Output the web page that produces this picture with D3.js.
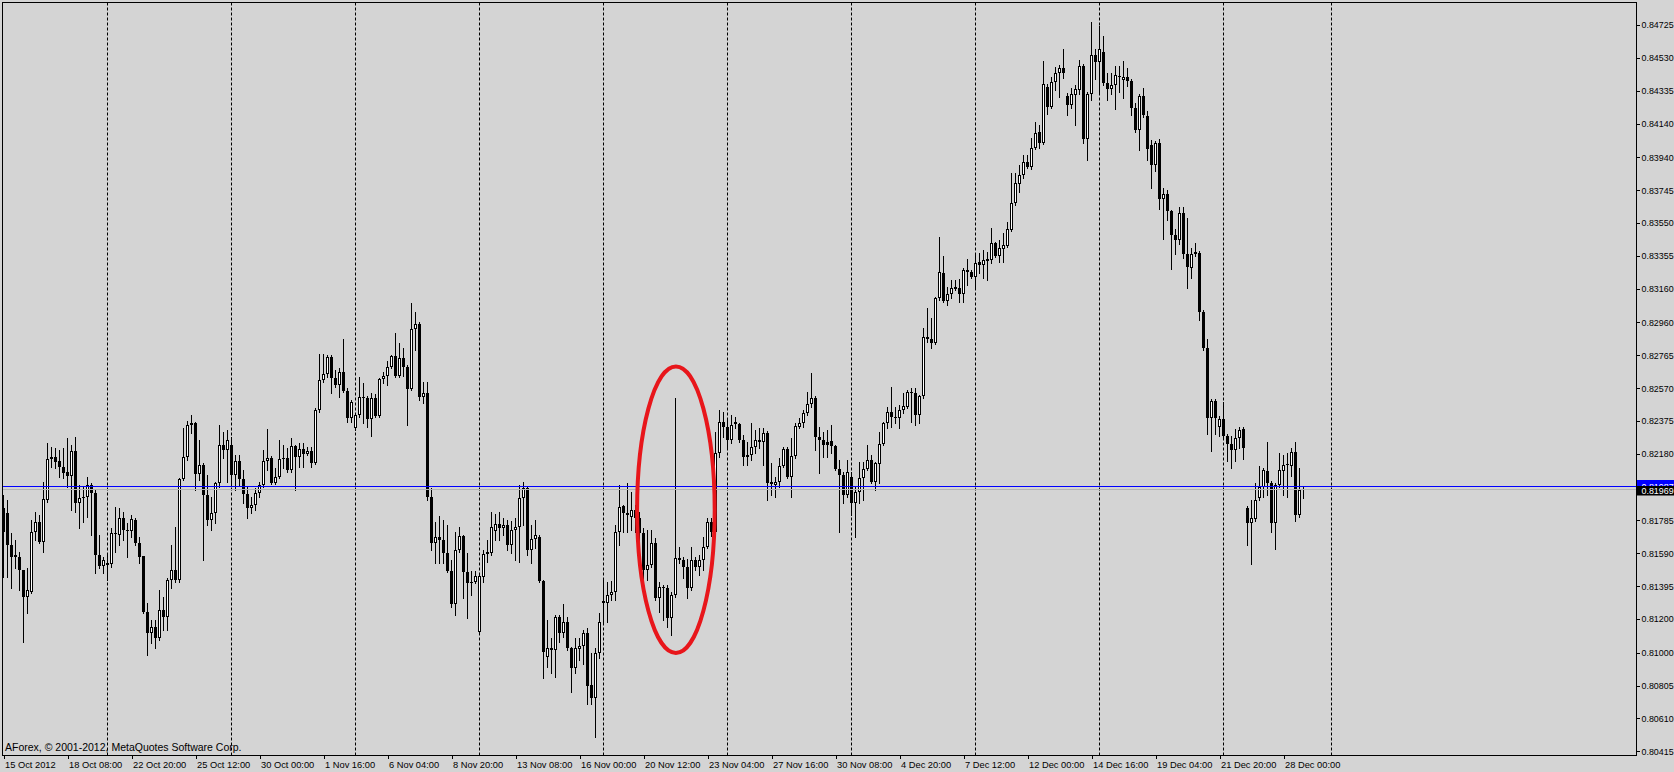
<!DOCTYPE html>
<html><head><meta charset="utf-8">
<script src="https://cdn.jsdelivr.net/npm/d3@7"></script>
<style>html,body{margin:0;padding:0;background:#d4d4d4;overflow:hidden}svg{display:block}</style>
</head><body><svg id="c" width="1674" height="772"></svg>
<script>
const openP = [
0.81859,0.81829,0.81639,0.81580,0.81568,0.81491,0.81330,0.81360,0.81716,0.81776,
0.81657,0.81906,0.82149,0.82161,0.82137,0.82102,0.82072,0.82048,0.82197,0.81888,
0.81918,0.81924,0.81995,0.81948,0.81580,0.81514,0.81520,0.81526,0.81710,0.81698,
0.81799,0.81728,0.81722,0.81787,0.81651,0.81574,0.81241,0.81117,0.81152,0.81087,
0.81253,0.81212,0.81431,0.81491,0.81431,0.82031,0.82161,0.82351,0.82363,0.82060,
0.82114,0.81936,0.81787,0.81829,0.82007,0.82232,0.82203,0.82232,0.82054,0.82137,
0.82031,0.81942,0.81859,0.81876,0.81948,0.81995,0.82137,0.82155,0.82007,0.82043,
0.82149,0.82155,0.82084,0.82226,0.82161,0.82209,0.82179,0.82197,0.82126,0.82440,
0.82618,0.82654,0.82755,0.82630,0.82588,0.82666,0.82553,0.82393,0.82333,0.82410,
0.82517,0.82511,0.82387,0.82511,0.82405,0.82624,0.82642,0.82695,0.82761,0.82642,
0.82749,0.82695,0.82565,0.82921,0.82950,0.82517,0.82541,0.81924,0.81651,0.81686,
0.81669,0.81592,0.81485,0.81289,0.81609,0.81692,0.81479,0.81414,0.81419,0.81123,
0.81449,0.81586,0.81592,0.81722,0.81764,0.81740,0.81758,0.81639,0.81728,0.81746,
0.81918,0.81977,0.81609,0.81675,0.81686,0.81425,0.80974,0.81028,0.81016,0.81212,
0.81117,0.81182,0.81028,0.80909,0.81022,0.81040,0.81117,0.80808,0.80731,0.80998,
0.81307,0.81295,0.81342,0.81360,0.81716,0.81870,0.81817,0.81805,0.81847,0.81799,
0.81710,0.81491,0.81520,0.81651,0.81325,0.81390,0.81384,0.81206,0.81342,0.81562,
0.81550,0.81508,0.81384,0.81550,0.81508,0.81550,0.81627,0.81776,0.81716,0.82185,
0.82369,0.82339,0.82262,0.82369,0.82357,0.82262,0.82161,0.82173,0.82221,0.82262,
0.82250,0.82304,0.82001,0.81995,0.82013,0.82108,0.82209,0.82043,0.82167,0.82339,
0.82363,0.82422,0.82476,0.82511,0.82280,0.82262,0.82250,0.82256,0.82226,0.82090,
0.82054,0.81936,0.82043,0.81888,0.81953,0.82037,0.82090,0.82143,0.82013,0.82120,
0.82238,0.82363,0.82428,0.82399,0.82393,0.82440,0.82458,0.82547,0.82541,0.82410,
0.82523,0.82873,0.82861,0.82838,0.83105,0.83253,0.83087,0.83128,0.83158,0.83164,
0.83128,0.83271,0.83259,0.83229,0.83318,0.83300,0.83324,0.83330,0.83431,0.83354,
0.83395,0.83413,0.83508,0.83668,0.83781,0.83835,0.83912,0.83882,0.83995,0.84090,
0.84024,0.84357,0.84238,0.84386,0.84440,0.84470,0.84303,0.84250,0.84309,0.84339,
0.84481,0.84048,0.84315,0.84547,0.84505,0.84564,0.84380,0.84345,0.84369,0.84416,
0.84398,0.84416,0.84392,0.84232,0.84102,0.84303,0.84185,0.84013,0.83894,0.84024,
0.83692,0.83722,0.83621,0.83479,0.83449,0.83609,0.83366,0.83283,0.83366,0.83372,
0.83022,0.82808,0.82393,0.82494,0.82339,0.82387,0.82286,0.82238,0.82203,0.82274,
0.82327,0.81859,0.81770,0.81793,0.81918,0.81983,0.82078,0.82007,0.81770,0.81995,
0.82078,0.82114,0.82108,0.82191,0.81817,0.81965];

const highP = [
0.81936,0.81906,0.81710,0.81669,0.81597,0.81491,0.81503,0.81787,0.81835,0.81817,
0.82013,0.82244,0.82221,0.82215,0.82203,0.82215,0.82274,0.82232,0.82280,0.81995,
0.81983,0.82043,0.82007,0.81965,0.81698,0.81568,0.81580,0.81740,0.81865,0.81859,
0.81835,0.81770,0.81817,0.81799,0.81686,0.81574,0.81295,0.81194,0.81194,0.81372,
0.81330,0.81443,0.81639,0.81746,0.82037,0.82333,0.82375,0.82410,0.82369,0.82262,
0.82126,0.82054,0.81924,0.82013,0.82351,0.82310,0.82321,0.82280,0.82173,0.82173,
0.82084,0.81983,0.81924,0.81977,0.82013,0.82203,0.82327,0.82167,0.82096,0.82262,
0.82232,0.82215,0.82274,0.82232,0.82244,0.82244,0.82221,0.82221,0.82452,0.82772,
0.82772,0.82766,0.82766,0.82677,0.82689,0.82861,0.82571,0.82499,0.82416,0.82636,
0.82600,0.82523,0.82541,0.82535,0.82630,0.82666,0.82731,0.82766,0.82897,0.82838,
0.82808,0.82707,0.83075,0.83022,0.82962,0.82606,0.82606,0.81977,0.81776,0.81811,
0.81787,0.81758,0.81550,0.81716,0.81746,0.81698,0.81592,0.81485,0.81485,0.81461,
0.81609,0.81669,0.81835,0.81823,0.81835,0.81799,0.81787,0.81781,0.81799,0.81995,
0.82013,0.81983,0.81758,0.81787,0.81698,0.81431,0.81194,0.81087,0.81224,0.81224,
0.81289,0.81212,0.81034,0.81087,0.81087,0.81135,0.81146,0.80998,0.81028,0.81236,
0.81443,0.81419,0.81425,0.81758,0.81995,0.81876,0.82007,0.81953,0.81876,0.81835,
0.81740,0.81728,0.81728,0.81681,0.81419,0.81402,0.81402,0.81360,0.82511,0.81627,
0.81568,0.81556,0.81627,0.81568,0.81580,0.81686,0.81799,0.81799,0.82310,0.82440,
0.82428,0.82393,0.82410,0.82399,0.82363,0.82292,0.82250,0.82363,0.82321,0.82333,
0.82333,0.82315,0.82126,0.82043,0.82155,0.82221,0.82221,0.82274,0.82363,0.82393,
0.82440,0.82547,0.82660,0.82523,0.82339,0.82310,0.82321,0.82351,0.82232,0.82143,
0.82072,0.82143,0.82072,0.81983,0.82132,0.82132,0.82232,0.82173,0.82132,0.82310,
0.82369,0.82458,0.82577,0.82458,0.82470,0.82541,0.82559,0.82571,0.82571,0.82529,
0.82927,0.83045,0.82986,0.83111,0.83467,0.83354,0.83170,0.83212,0.83212,0.83217,
0.83283,0.83336,0.83271,0.83372,0.83372,0.83390,0.83378,0.83520,0.83437,0.83449,
0.83490,0.83556,0.83846,0.83846,0.83894,0.83953,0.83953,0.84054,0.84149,0.84131,
0.84511,0.84375,0.84416,0.84475,0.84487,0.84582,0.84321,0.84351,0.84369,0.84517,
0.84493,0.84327,0.84742,0.84582,0.84719,0.84659,0.84440,0.84440,0.84481,0.84481,
0.84511,0.84470,0.84404,0.84262,0.84315,0.84351,0.84214,0.84042,0.84036,0.84048,
0.83757,0.83746,0.83627,0.83514,0.83645,0.83645,0.83579,0.83401,0.83431,0.83384,
0.83034,0.82861,0.82505,0.82505,0.82405,0.82488,0.82298,0.82286,0.82327,0.82339,
0.82339,0.81870,0.81906,0.82007,0.82108,0.82096,0.82250,0.82019,0.82007,0.82185,
0.82173,0.82185,0.82215,0.82250,0.82096,0.81983];

const lowP = [
0.81449,0.81449,0.81384,0.81503,0.81372,0.81063,0.81236,0.81354,0.81669,0.81651,
0.81597,0.81894,0.82102,0.82096,0.82043,0.82037,0.81983,0.81847,0.81835,0.81740,
0.81776,0.81805,0.81698,0.81473,0.81503,0.81473,0.81431,0.81508,0.81597,0.81639,
0.81669,0.81568,0.81686,0.81639,0.81532,0.81236,0.80986,0.81057,0.81028,0.81075,
0.81135,0.81135,0.81384,0.81419,0.81419,0.82025,0.82143,0.82304,0.81965,0.82025,
0.81550,0.81758,0.81728,0.81770,0.81983,0.82155,0.82013,0.81995,0.81965,0.81995,
0.81888,0.81799,0.81829,0.81847,0.81924,0.81983,0.82084,0.82001,0.82001,0.82037,
0.82096,0.82072,0.82072,0.81965,0.82102,0.82102,0.82173,0.82102,0.82120,0.82428,
0.82606,0.82636,0.82541,0.82577,0.82517,0.82547,0.82369,0.82369,0.82321,0.82399,
0.82363,0.82339,0.82286,0.82399,0.82399,0.82600,0.82588,0.82689,0.82636,0.82636,
0.82642,0.82351,0.82559,0.82796,0.82499,0.82482,0.81906,0.81609,0.81532,0.81532,
0.81532,0.81479,0.81271,0.81224,0.81597,0.81325,0.81206,0.81342,0.81414,0.81117,
0.81419,0.81538,0.81580,0.81669,0.81669,0.81698,0.81609,0.81592,0.81550,0.81538,
0.81758,0.81580,0.81532,0.81621,0.81419,0.80850,0.80915,0.80879,0.80856,0.81063,
0.81093,0.81016,0.80767,0.80879,0.80957,0.80933,0.80696,0.80696,0.80500,0.80968,
0.81182,0.81182,0.81313,0.81313,0.81639,0.81716,0.81716,0.81728,0.81716,0.81669,
0.81431,0.81431,0.81508,0.81313,0.81241,0.81194,0.81152,0.81105,0.81330,0.81532,
0.81443,0.81325,0.81372,0.81491,0.81461,0.81491,0.81621,0.81692,0.81704,0.82161,
0.82280,0.82221,0.82244,0.82333,0.82250,0.82114,0.82114,0.82143,0.82185,0.82215,
0.82114,0.81906,0.81936,0.81924,0.81983,0.82102,0.82037,0.81924,0.82155,0.82333,
0.82339,0.82410,0.82458,0.82203,0.82066,0.82161,0.82161,0.82185,0.82084,0.81716,
0.81888,0.81924,0.81817,0.81686,0.81888,0.81906,0.82084,0.82007,0.81965,0.82007,
0.82232,0.82333,0.82339,0.82363,0.82333,0.82422,0.82452,0.82369,0.82351,0.82363,
0.82511,0.82844,0.82808,0.82832,0.83093,0.83081,0.83063,0.83105,0.83152,0.83081,
0.83081,0.83182,0.83223,0.83170,0.83253,0.83223,0.83212,0.83312,0.83348,0.83318,
0.83318,0.83407,0.83502,0.83657,0.83734,0.83817,0.83876,0.83870,0.83989,0.83995,
0.84019,0.84197,0.84232,0.84339,0.84297,0.84410,0.84191,0.84232,0.84131,0.84315,
0.84024,0.83924,0.84280,0.84404,0.84315,0.84369,0.84280,0.84315,0.84226,0.84327,
0.84292,0.84363,0.84191,0.84090,0.83983,0.84179,0.83924,0.83757,0.83858,0.83633,
0.83455,0.83568,0.83277,0.83366,0.83425,0.83342,0.83164,0.83223,0.83354,0.82974,
0.82796,0.82298,0.82197,0.82298,0.82286,0.82274,0.82137,0.82096,0.82137,0.82215,
0.82149,0.81639,0.81526,0.81781,0.81906,0.81924,0.81936,0.81716,0.81615,0.81983,
0.81936,0.81924,0.82048,0.81781,0.81805,0.81918];

const closeP = [
0.81716,0.81639,0.81568,0.81568,0.81491,0.81330,0.81372,0.81716,0.81776,0.81657,
0.81912,0.82149,0.82161,0.82132,0.82102,0.82066,0.82048,0.82197,0.81888,0.81918,
0.81924,0.81995,0.81948,0.81580,0.81514,0.81550,0.81532,0.81710,0.81712,0.81799,
0.81728,0.81722,0.81793,0.81651,0.81568,0.81241,0.81117,0.81152,0.81087,0.81253,
0.81212,0.81431,0.81491,0.81431,0.82031,0.82161,0.82351,0.82363,0.82060,0.82114,
0.81936,0.81787,0.81829,0.82007,0.82232,0.82203,0.82262,0.82054,0.82137,0.82031,
0.81942,0.81859,0.81876,0.81948,0.81995,0.82137,0.82155,0.82007,0.82043,0.82149,
0.82155,0.82084,0.82226,0.82161,0.82209,0.82179,0.82197,0.82126,0.82440,0.82618,
0.82654,0.82755,0.82630,0.82588,0.82666,0.82553,0.82393,0.82488,0.82410,0.82517,
0.82511,0.82387,0.82511,0.82405,0.82624,0.82642,0.82695,0.82761,0.82642,0.82749,
0.82695,0.82565,0.82921,0.82950,0.82517,0.82541,0.81924,0.81651,0.81686,0.81669,
0.81592,0.81485,0.81289,0.81609,0.81692,0.81479,0.81414,0.81419,0.81455,0.81455,
0.81586,0.81597,0.81746,0.81764,0.81740,0.81758,0.81639,0.81728,0.81746,0.81918,
0.81977,0.81609,0.81675,0.81698,0.81425,0.81004,0.81028,0.81016,0.81212,0.81117,
0.81182,0.81028,0.80909,0.81028,0.81040,0.81117,0.80802,0.80731,0.80998,0.81182,
0.81295,0.81342,0.81360,0.81716,0.81865,0.81829,0.81829,0.81847,0.81799,0.81710,
0.81491,0.81520,0.81651,0.81325,0.81390,0.81384,0.81206,0.81342,0.81562,0.81550,
0.81508,0.81384,0.81550,0.81508,0.81550,0.81627,0.81776,0.81716,0.82185,0.82369,
0.82339,0.82262,0.82351,0.82357,0.82262,0.82161,0.82173,0.82221,0.82262,0.82250,
0.82304,0.82007,0.82013,0.82013,0.82108,0.82209,0.82043,0.82167,0.82345,0.82363,
0.82422,0.82476,0.82511,0.82280,0.82262,0.82232,0.82232,0.82226,0.82090,0.82054,
0.81936,0.82072,0.81888,0.81953,0.82037,0.82090,0.82143,0.82013,0.82126,0.82238,
0.82363,0.82428,0.82399,0.82393,0.82440,0.82464,0.82547,0.82541,0.82410,0.82523,
0.82873,0.82861,0.82838,0.83105,0.83259,0.83087,0.83128,0.83164,0.83170,0.83128,
0.83271,0.83259,0.83229,0.83312,0.83300,0.83330,0.83336,0.83431,0.83354,0.83401,
0.83419,0.83514,0.83668,0.83787,0.83835,0.83912,0.83882,0.83995,0.84084,0.84024,
0.84375,0.84238,0.84386,0.84440,0.84470,0.84440,0.84250,0.84315,0.84345,0.84481,
0.84048,0.84315,0.84547,0.84505,0.84582,0.84380,0.84345,0.84369,0.84428,0.84422,
0.84416,0.84392,0.84232,0.84102,0.84303,0.84191,0.83989,0.83894,0.84024,0.83692,
0.83722,0.83621,0.83479,0.83449,0.83609,0.83366,0.83289,0.83366,0.83378,0.83022,
0.82808,0.82393,0.82494,0.82393,0.82387,0.82286,0.82238,0.82203,0.82274,0.82321,
0.82215,0.81770,0.81799,0.81906,0.81983,0.82084,0.82007,0.81770,0.81995,0.82084,
0.82114,0.82120,0.82191,0.81817,0.81965,0.81969];

// x-axis labels every 16 bars (bar index of each label)
const xTickIndex = [0,16,32,48,64,80,96,112,128,144,160,176,192,208,224,240,256,272,288,304,320];
const xTickLabels = ["15 Oct 2012","18 Oct 08:00","22 Oct 20:00","25 Oct 12:00","30 Oct 00:00","1 Nov 16:00",
  "6 Nov 04:00","8 Nov 20:00","13 Nov 08:00","16 Nov 00:00","20 Nov 12:00","23 Nov 04:00","27 Nov 16:00",
  "30 Nov 08:00","4 Dec 20:00","7 Dec 12:00","12 Dec 00:00","14 Dec 16:00","19 Dec 04:00","21 Dec 20:00","28 Dec 00:00"];
// weekly period separators (bar index)
const separatorIndex = [26,57,88,119,150,181,212,243,274,305,332];
// price axis labels
const yTickValues = [0.84725,0.84530,0.84335,0.84140,0.83940,0.83745,0.83550,0.83355,0.83160,0.82960,0.82765,
  0.82570,0.82375,0.82180,0.81785,0.81590,0.81395,0.81200,0.81000,0.80805,0.80610,0.80415];
const bidPrice = 0.81969;
const hLinePrice = 0.81987;
// red ellipse annotation: bar-index extent and price extent
const ellipseBars = [158.4, 177.8];
const ellipsePrices = [0.80998, 0.82699];

const W = 1674, H = 772;
const BG = "#d4d4d4";
const FONT = "'Liberation Sans', Arial, sans-serif";
const plot = {left: 2.5, top: 2.5, right: 1636.5, bottom: 755.5};
const n = openP.length;

const svg = d3.select("#c");
svg.append("rect").attr("width", W).attr("height", H).attr("fill", BG);

const x = d3.scaleLinear().domain([0, n - 1]).range([3.5, 3.5 + 4 * (n - 1)]);
const y = d3.scaleLinear().domain([0.80415, 0.84725]).range([751.3, 25]);

svg.append("clipPath").attr("id", "clip").append("rect")
  .attr("x", plot.left).attr("y", plot.top)
  .attr("width", plot.right - plot.left).attr("height", plot.bottom - plot.top);

const g = svg.append("g").attr("clip-path", "url(#clip)");

// period separators
g.selectAll("line.sep").data(separatorIndex).join("line").attr("class", "sep")
  .attr("x1", d => x(d)).attr("x2", d => x(d))
  .attr("y1", plot.top).attr("y2", plot.bottom)
  .attr("stroke", "#000").attr("stroke-width", 1).attr("stroke-dasharray", "3,2");

const bars = d3.range(n).map(i => ({i, o: openP[i], h: highP[i], l: lowP[i], c: closeP[i]}));
const cg = g.append("g").attr("shape-rendering", "crispEdges");

// wicks
cg.selectAll("line.wick").data(bars).join("line").attr("class", "wick")
  .attr("x1", d => x(d.i)).attr("x2", d => x(d.i))
  .attr("y1", d => Math.round(y(Math.max(d.h, d.o, d.c))))
  .attr("y2", d => Math.round(y(Math.min(d.l, d.o, d.c))) + 1)
  .attr("stroke", "#000").attr("stroke-width", 1);

// bodies
bars.forEach(d => {
  const yo = Math.round(y(d.o)), yc = Math.round(y(d.c));
  const top = Math.min(yo, yc), bot = Math.max(yo, yc);
  const cx = x(d.i);
  if (bot - top <= 1) {
    cg.append("rect").attr("x", cx - 1.5).attr("y", top).attr("width", 3).attr("height", Math.max(1, bot - top))
      .attr("fill", "#000");
  } else if (d.c > d.o) {
    cg.append("rect").attr("x", cx - 1).attr("y", top + 0.5).attr("width", 2).attr("height", bot - top - 1)
      .attr("fill", "#fff").attr("stroke", "#000").attr("stroke-width", 1);
  } else {
    cg.append("rect").attr("x", cx - 1.5).attr("y", top).attr("width", 3).attr("height", bot - top)
      .attr("fill", "#000");
  }
});

// bid line and horizontal line object
g.append("line").attr("x1", plot.left).attr("x2", plot.right)
  .attr("y1", Math.round(y(bidPrice)) + 0.5).attr("y2", Math.round(y(bidPrice)) + 0.5)
  .attr("stroke", "#b4b4b4").attr("stroke-width", 1);
g.append("line").attr("x1", plot.left).attr("x2", plot.right)
  .attr("y1", Math.round(y(hLinePrice)) + 0.5).attr("y2", Math.round(y(hLinePrice)) + 0.5)
  .attr("stroke", "#0000ff").attr("stroke-width", 1);

// red ellipse
const ex0 = x(ellipseBars[0]), ex1 = x(ellipseBars[1]);
const ey0 = y(ellipsePrices[1]), ey1 = y(ellipsePrices[0]);
g.append("ellipse").attr("cx", (ex0 + ex1) / 2).attr("cy", (ey0 + ey1) / 2)
  .attr("rx", (ex1 - ex0) / 2).attr("ry", (ey1 - ey0) / 2)
  .attr("fill", "none").attr("stroke", "#e8161b").attr("stroke-width", 4);

// frame
svg.append("rect").attr("x", plot.left).attr("y", plot.top)
  .attr("width", plot.right - plot.left).attr("height", plot.bottom - plot.top)
  .attr("fill", "none").attr("stroke", "#000").attr("stroke-width", 1).attr("shape-rendering", "crispEdges");

// copyright
svg.append("text").attr("x", 5).attr("y", 751).attr("font-family", FONT).attr("font-size", "10.5px")
  .attr("fill", "#000").text("AForex, \u00a9 2001-2012, MetaQuotes Software Corp.");

// y axis
const yAxis = svg.append("g").attr("transform", `translate(${plot.right},0)`)
  .call(d3.axisRight(y).tickValues(yTickValues).tickSize(3).tickPadding(2).tickFormat(d3.format(".5f")));
yAxis.select(".domain").remove();
yAxis.selectAll("line").attr("stroke", "#000").attr("shape-rendering", "crispEdges");
yAxis.selectAll("text").attr("font-family", FONT).attr("font-size", "8.9px").attr("fill", "#000");

// x axis
const xAxis = svg.append("g").attr("transform", `translate(0,${plot.bottom})`)
  .call(d3.axisBottom(x).tickValues(xTickIndex).tickSize(3).tickFormat((d, i) => xTickLabels[i]));
xAxis.select(".domain").remove();
xAxis.selectAll("line").attr("stroke", "#000").attr("shape-rendering", "crispEdges");
xAxis.selectAll("text").attr("font-family", FONT).attr("font-size", "9.3px").attr("fill", "#000")
  .attr("text-anchor", "start").attr("x", 1).attr("y", 6).attr("dy", "0.71em");

// price labels on the axis
const hy = Math.round(y(hLinePrice));
svg.append("rect").attr("x", 1637).attr("y", hy - 6).attr("width", 37).attr("height", 12).attr("fill", "#0000ff");
svg.append("text").attr("x", 1641.5).attr("y", hy + 3.5).attr("font-family", FONT).attr("font-size", "8.9px")
  .attr("fill", "#fff").text(d3.format(".5f")(hLinePrice));
const by = Math.round(y(bidPrice));
svg.append("rect").attr("x", 1637).attr("y", by - 3).attr("width", 37).attr("height", 9.5).attr("fill", "#000");
svg.append("text").attr("x", 1641.5).attr("y", by + 4.5).attr("font-family", FONT).attr("font-size", "8.9px")
  .attr("fill", "#fff").text(d3.format(".5f")(bidPrice));
</script>
</body></html>
